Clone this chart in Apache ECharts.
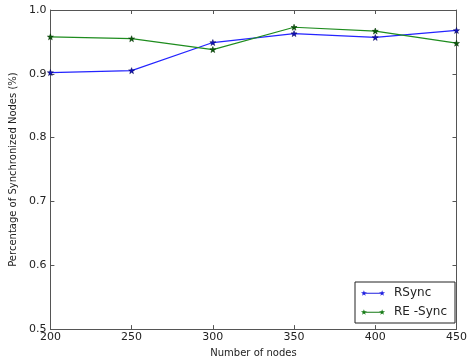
<!DOCTYPE html>
<html>
<head>
<meta charset="utf-8">
<script src="https://cdn.jsdelivr.net/npm/echarts@6/dist/echarts.min.js"></script>
<style>
  html, body { margin: 0; padding: 0; background: #fff; }
  #chart { width: 470px; height: 363px; }
</style>
</head>
<body>
<div id="chart"></div>
<script>
// Number of nodes on the x axis
const nodes = [200, 250, 300, 350, 400, 450];
// Fraction of nodes that end up synchronized
const rsync = [0.902, 0.905, 0.949, 0.963, 0.957, 0.968];
const reSync = [0.958, 0.955, 0.938, 0.973, 0.967, 0.948];
const yTicks = [0.5, 0.6, 0.7, 0.8, 0.9, 1.0];

const FONT = 'DejaVu Sans';
const frameColor = '#555';

// five-pointed star marker
const STAR = 'path://M0,-10 L2.35,-3.24 L9.51,-3.09 L3.8,1.24 L5.88,8.09 L0,4 L-5.88,8.09 L-3.8,1.24 L-9.51,-3.09 L-2.35,-3.24 Z';
// legend key: a short line with a star at each end
const LEGEND_KEY = 'path://' +
  'M3,1 L3.705,3.029 L5.853,3.073 L4.141,4.371 L4.763,6.427 L3,5.2 L1.237,6.427 L1.859,4.371 L0.147,3.073 L2.295,3.029 Z ' +
  'M21,1 L21.705,3.029 L23.853,3.073 L22.141,4.371 L22.763,6.427 L21,5.2 L19.237,6.427 L19.859,4.371 L18.147,3.073 L20.295,3.029 Z ' +
  'M3,3.55 L21,3.55 L21,4.45 L3,4.45 Z';

const pair = (xs, ys) => xs.map((x, i) => [x, ys[i]]);

const chart = echarts.init(document.getElementById('chart'), null, { renderer: 'canvas' });

const baseX = {
  type: 'value', min: 200, max: 450, interval: 50,
  axisLine: { show: true, onZero: false, lineStyle: { color: frameColor, width: 1 } },
  axisTick: { show: true, inside: true, length: 4, lineStyle: { color: frameColor } },
  splitLine: { show: false }
};
const baseY = {
  type: 'value', min: 0.5, max: 1.0, interval: 0.1,
  axisLine: { show: true, onZero: false, lineStyle: { color: frameColor, width: 1 } },
  axisTick: { show: true, inside: true, length: 4, lineStyle: { color: frameColor } },
  splitLine: { show: false }
};

chart.setOption({
  animation: false,
  backgroundColor: '#fff',
  textStyle: { fontFamily: FONT },
  grid: { left: 48, right: 8, top: 10, bottom: 33, containLabel: false },
  xAxis: [
    Object.assign({}, baseX, {
      position: 'bottom',
      name: 'Number of nodes', nameLocation: 'middle', nameGap: 16,
      nameTextStyle: { fontFamily: FONT, fontSize: 10, color: '#222' },
      axisLabel: { fontFamily: FONT, fontSize: 11, color: '#222', margin: 3 }
    }),
    Object.assign({}, baseX, { position: 'top', axisLabel: { show: false } })
  ],
  yAxis: [
    Object.assign({}, baseY, {
      position: 'left',
      name: 'Percentage of Synchronized Nodes (%)', nameLocation: 'middle', nameGap: 32,
      nameTextStyle: { fontFamily: FONT, fontSize: 10, color: '#222' },
      axisLabel: {
        fontFamily: FONT, fontSize: 11, color: '#222', margin: 4,
        formatter: v => {
          const t = yTicks.find(k => Math.abs(k - v) < 1e-9);
          return t === undefined ? '' : t.toFixed(1);
        }
      }
    }),
    Object.assign({}, baseY, { position: 'right', axisLabel: { show: false } })
  ],
  legend: {
    right: 15, bottom: 40,
    orient: 'vertical',
    backgroundColor: '#fff',
    borderColor: '#222', borderWidth: 1, borderRadius: 0,
    padding: [5, 8, 5, 6],
    itemGap: 7, itemWidth: 24, itemHeight: 7,
    textStyle: { fontFamily: FONT, fontSize: 12, color: '#222', padding: [0, 0, 0, 4] },
    data: [
      { name: 'RSync', icon: LEGEND_KEY, itemStyle: { color: '#2020e0', borderWidth: 0 } },
      { name: 'RE -Sync', icon: LEGEND_KEY, itemStyle: { color: '#157a15', borderWidth: 0 } }
    ]
  },
  series: [
    {
      name: 'RSync', type: 'line',
      data: pair(nodes, rsync),
      symbol: STAR,
      symbolSize: 6,
      lineStyle: { color: '#2424ff', width: 1.2 },
      itemStyle: { color: '#1010c0', borderColor: '#000050', borderWidth: 0.5 }
    },
    {
      name: 'RE -Sync', type: 'line',
      data: pair(nodes, reSync),
      symbol: STAR,
      symbolSize: 6,
      lineStyle: { color: '#1e8c1e', width: 1.2 },
      itemStyle: { color: '#0a5a0a', borderColor: '#003000', borderWidth: 0.5 }
    }
  ]
});
</script>
</body>
</html>
